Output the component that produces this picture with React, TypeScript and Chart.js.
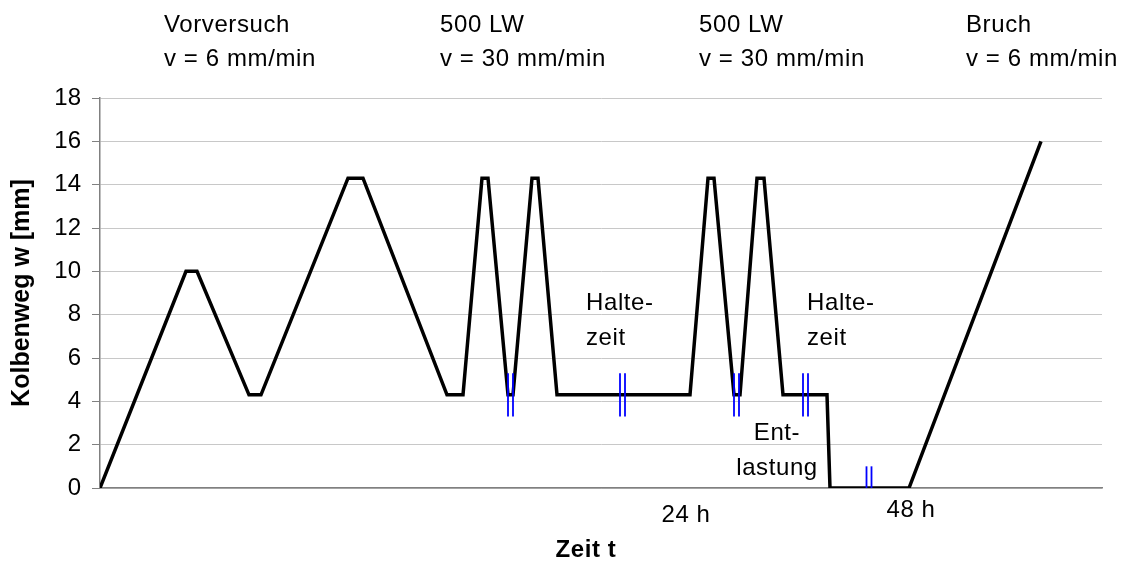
import React, { useEffect, useRef } from "react";
import { Chart, registerables } from "chart.js";

Chart.register(...registerables);

// ---- data (time axis in arbitrary, schematic units; not to scale) ----
const timePoints = [
  0, 86, 97, 149, 161, 248, 263, 347, 363, 382, 388, 408, 413, 432, 438, 457,
  590, 608, 614, 634, 640, 657, 664, 683, 727, 730, 809, 941,
];
const strokeValues = [
  0, 10, 10, 4.3, 4.3, 14.3, 14.3, 4.3, 4.3, 14.3, 14.3, 4.3, 4.3, 14.3, 14.3, 4.3,
  4.3, 14.3, 14.3, 4.3, 4.3, 14.3, 14.3, 4.3, 4.3, 0, 0, 16,
];
const yTickValues = [0, 2, 4, 6, 8, 10, 12, 14, 16, 18];
const timeMax = 1002;

// axis-break marks ("||") on the time axis
const breakMarkTimes = [410.5, 522.5, 636.5, 705.5, 769];
const breakMarkLow = [3.3, 3.3, 3.3, 3.3, 0];
const breakMarkHigh = [5.3, 5.3, 5.3, 5.3, 1.0];

// text annotations, anchored in data coordinates (time, Kolbenweg)
const annotationTexts = [
  ["Vorversuch", "v = 6 mm/min"],
  ["500 LW", "v = 30 mm/min"],
  ["500 LW", "v = 30 mm/min"],
  ["Bruch", "v = 6 mm/min"],
  ["Halte-", "zeit"],
  ["Halte-", "zeit"],
  ["Ent-", "lastung"],
  ["24 h"],
  ["48 h"],
];
const annotationTimes = [64, 340, 599, 866, 486, 707, 677, 586, 811];
const annotationValues = [21.06, 21.06, 21.06, 21.06, 8.21, 8.21, 2.21, -1.57, -1.34];
const annotationAligns = ["left", "left", "left", "left", "left", "left", "center", "center", "center"];

const xTitle = "Zeit t";
const xTitleTime = 486;
const xTitleValue = -3.18;
const yTitle = "Kolbenweg w [mm]";

const FONT = "'Liberation Sans', Arial, sans-serif";

const overlayPlugin = {
  id: "overlay",
  afterDraw(chart: any) {
    const { ctx, scales } = chart;
    const x = scales.x;
    const y = scales.y;
    ctx.save();
    // break marks
    ctx.strokeStyle = "#0000ff";
    ctx.lineWidth = 1.8;
    breakMarkTimes.forEach((t, i) => {
      const px = x.getPixelForValue(t);
      const y1 = y.getPixelForValue(breakMarkLow[i]);
      const y2 = y.getPixelForValue(breakMarkHigh[i]);
      [-2.5, 2.5].forEach((off) => {
        ctx.beginPath();
        ctx.moveTo(px + off, y1);
        ctx.lineTo(px + off, y2);
        ctx.stroke();
      });
    });
    // texts
    ctx.fillStyle = "#000000";
    ctx.textBaseline = "alphabetic";
    try {
      (ctx as any).letterSpacing = "0.6px";
    } catch (e) {}
    ctx.font = `24px ${FONT}`;
    annotationTexts.forEach((lines, i) => {
      const px = x.getPixelForValue(annotationTimes[i]);
      const py = y.getPixelForValue(annotationValues[i]);
      ctx.textAlign = annotationAligns[i];
      lines.forEach((line, j) => {
        ctx.fillText(line, px, py + j * 34.5);
      });
    });
    ctx.font = `bold 24px ${FONT}`;
    ctx.textAlign = "center";
    ctx.fillText(xTitle, x.getPixelForValue(xTitleTime), y.getPixelForValue(xTitleValue));
    ctx.restore();
  },
};

export default function App() {
  const canvasRef = useRef<HTMLCanvasElement | null>(null);

  useEffect(() => {
    if (!canvasRef.current) return;
    const chart = new Chart(canvasRef.current, {
      type: "line",
      data: {
        datasets: [
          {
            label: "Kolbenweg",
            data: timePoints.map((t, i) => ({ x: t, y: strokeValues[i] })),
            borderColor: "#000000",
            borderWidth: 3.5,
            borderJoinStyle: "miter",
            pointRadius: 0,
            pointHoverRadius: 0,
            tension: 0,
            fill: false,
          },
        ],
      },
      options: {
        animation: false,
        responsive: true,
        maintainAspectRatio: false,
        layout: { padding: { top: 98, right: 22, bottom: 0, left: 0 } },
        plugins: {
          legend: { display: false },
          tooltip: { enabled: false },
          title: { display: false },
        },
        scales: {
          x: {
            type: "linear",
            min: 0,
            max: timeMax,
            ticks: { display: false },
            grid: { display: false },
            border: { display: true, color: "#808080", width: 1.5 },
            afterFit: (scale: any) => {
              scale.height = 73;
            },
          },
          y: {
            type: "linear",
            min: 0,
            max: 18,
            afterBuildTicks: (scale: any) => {
              scale.ticks = yTickValues.map((v) => ({ value: v }));
            },
            ticks: {
              color: "#000000",
              padding: 11,
              font: { family: FONT, size: 24 },
            },
            grid: {
              color: "#c8c8c8",
              lineWidth: 1,
              tickColor: "#808080",
              tickLength: 8,
              drawTicks: true,
            },
            border: { display: true, color: "#808080", width: 1.5 },
            title: {
              display: true,
              text: yTitle,
              color: "#000000",
              font: { family: FONT, size: 25, weight: "bold", lineHeight: 1.2 },
              padding: { top: 7.5, bottom: 0 },
            },
            afterFit: (scale: any) => {
              scale.width = 100;
            },
          },
        },
      },
      plugins: [overlayPlugin],
    } as any);
    return () => chart.destroy();
  }, []);

  return (
    <div style={{ position: "absolute", left: 0, top: 0, width: 1124, height: 561, background: "#ffffff" }}>
      <canvas ref={canvasRef} />
    </div>
  );
}
